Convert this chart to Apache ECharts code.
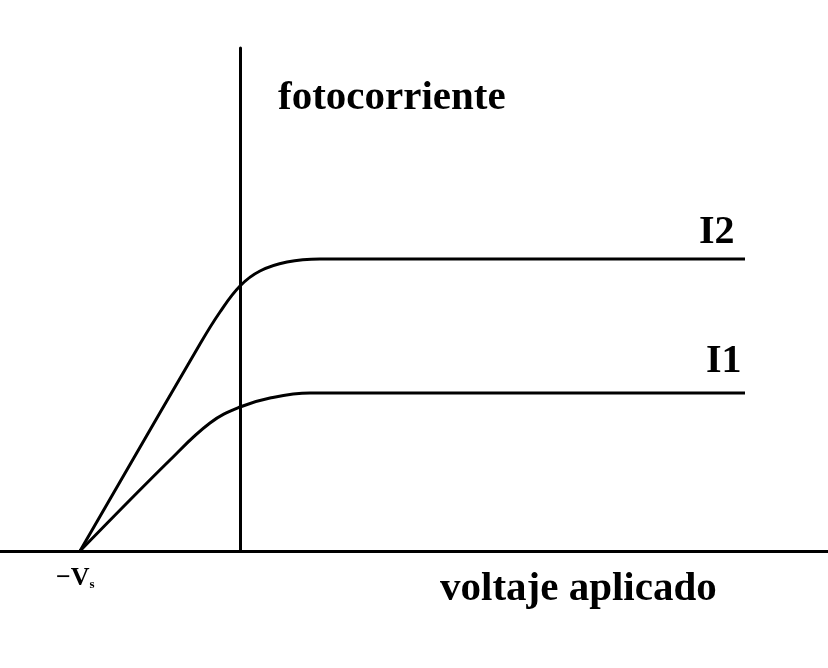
<!DOCTYPE html>
<html>
<head>
<meta charset="utf-8">
<script src="https://cdn.jsdelivr.net/npm/echarts@6/dist/echarts.min.js"></script>
<style>html,body{margin:0;padding:0;background:#fff}#c{width:828px;height:668px}</style>
</head>
<body>
<div id="c"></div>
<script>
// x in units where -Vs = -1, y arbitrary current units
var i2X = [-1, -0.25, -0.125, 0, 0.125, 0.29375, 0.5, 3.15625];
var i2Y = [0, 2.07, 2.39, 2.65, 2.80, 2.89, 2.92, 2.92];
var i1X = [-1, -0.4375, -0.1875, 0, 0.1875, 0.4375, 3.15625];
var i1Y = [0, 0.91, 1.28, 1.44, 1.53, 1.58, 1.58];
var seriesNames = ['I2', 'I1'];
var xTitle = 'voltaje aplicado';
var yTitle = 'fotocorriente';

function pairs(xs, ys){ return xs.map(function(x,i){return [x, ys[i]];}); }

var chart = echarts.init(document.getElementById('c'));
var font = '"Liberation Serif", "Times New Roman", serif';
chart.setOption({
  animation: false,
  backgroundColor: '#fff',
  grid: {left: 0, right: 0, top: 48, bottom: 117, containLabel: false},
  xAxis: {type: 'value', min: -1.5, max: 3.675,
    axisLine: {show: true, lineStyle: {color: '#000', width: 3}},
    axisTick: {show: false}, axisLabel: {show: false}, splitLine: {show: false}},
  yAxis: {type: 'value', min: 0, max: 5.03,
    axisLine: {show: true, onZero: true, lineStyle: {color: '#000', width: 3}},
    axisTick: {show: false}, axisLabel: {show: false}, splitLine: {show: false}},
  series: [
    {name: seriesNames[0], type: 'line', data: pairs(i2X, i2Y), smooth: 0.4, symbol: 'none',
     lineStyle: {color: '#000', width: 3}},
    {name: seriesNames[1], type: 'line', data: pairs(i1X, i1Y), smooth: 0.4, symbol: 'none',
     lineStyle: {color: '#000', width: 3}}
  ],
  graphic: [
    {type: 'text', left: 278, top: 78, style: {text: yTitle, font: 'bold 41px ' + font, fill: '#000'}},
    {type: 'text', left: 440, top: 569, style: {text: xTitle, font: 'bold 41px ' + font, fill: '#000'}},
    {type: 'text', left: 699, top: 213, style: {text: seriesNames[0], font: 'bold 40px ' + font, fill: '#000'}},
    {type: 'text', left: 706, top: 342, style: {text: seriesNames[1], font: 'bold 40px ' + font, fill: '#000'}},
    {type: 'text', left: 56, top: 565, style: {rich: {
        a: {font: 'bold 26px ' + font, fill: '#000'},
        b: {font: 'bold 13px ' + font, fill: '#000', padding: [14, 0, 0, 0]}
      }, text: '{a|−V}{b|s}'}}
  ]
});
</script>
</body>
</html>
